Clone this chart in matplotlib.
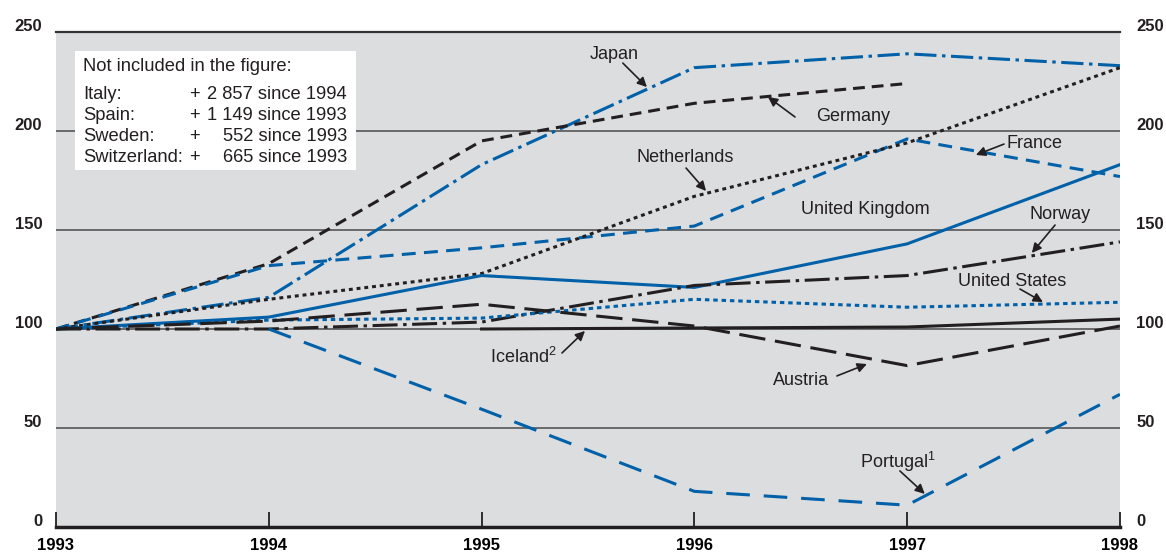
import matplotlib.pyplot as plt

plt.rcParams['font.family'] = ['Liberation Sans', 'DejaVu Sans']
plt.rcParams['mathtext.fontset'] = 'custom'
plt.rcParams['mathtext.rm'] = 'Liberation Sans'
plt.rcParams['lines.scale_dashes'] = False

# years on the x axis
years = [1993, 1994, 1995, 1996, 1997, 1998]

# index values (1993 = 100)
japan = [100, 116, 183, 232, 239, 233]
germany = [100, 133, 195, 214, 224]
france = [100, 132, 141, 152, 196, 177]
netherlands = [100, 115, 128, 167, 194, 232]
united_kingdom = [100, 106, 127, 121, 143, 183]
norway = [100, 100, 103.5, 122, 127, 144]
united_states = [100, 104.5, 105.5, 115, 111, 113.5]
austria = [100, 104, 112.5, 101.5, 81.5, 101.5]
iceland_years = [1995, 1996, 1997, 1998]
iceland = [100, 100.5, 101, 105]
portugal_years = [1994, 1995, 1996, 1997, 1998]
portugal = [100, 59.5, 18, 11, 67]

# box with countries left out
not_included = ['Italy:', 'Spain:', 'Sweden:', 'Switzerland:']
not_included_vals = ['2 857 since 1994', '1 149 since 1993', '552 since 1993', '665 since 1993']

blue = '#0060a8'
black = '#231f20'
bg = '#dcdddf'
txt = '#231f20'

fig, ax = plt.subplots(figsize=(11.66, 5.56), dpi=100)
fig.subplots_adjust(left=0.048, right=0.9605, top=0.9424, bottom=0.0522)
ax.set_facecolor(bg)

lw = 2.2
ax.plot(years, japan, color=blue, lw=lw, dashes=(16, 4, 2.5, 4))
ax.plot(years[:5], germany, color=black, lw=lw, dashes=(8.5, 5))
ax.plot(years, france, color=blue, lw=lw, dashes=(10, 6))
ax.plot(years, netherlands, color=black, lw=lw, dashes=(2.8, 2.8))
ax.plot(years, united_kingdom, color=blue, lw=lw)
ax.plot(years, norway, color=black, lw=lw, dashes=(18, 4, 2.5, 4))
ax.plot(years, united_states, color=blue, lw=lw, dashes=(3.2, 2.8))
ax.plot(years, austria, color=black, lw=lw, dashes=(19, 7))
ax.plot(iceland_years, iceland, color=black, lw=lw)
ax.plot(portugal_years, portugal, color=blue, lw=lw, dashes=(17, 10))

ax.set_xlim(1993, 1998)
ax.set_ylim(0, 250)

# grid lines
for v in [50, 100, 150, 200]:
    ax.axhline(v, color='#4a4a4a', lw=1.1, zorder=0.5)

for s in ['left', 'right']:
    ax.spines[s].set_visible(False)
ax.spines['top'].set_color('#333333')
ax.spines['top'].set_linewidth(1.6)
ax.spines['bottom'].set_color(black)
ax.spines['bottom'].set_linewidth(2.5)

tick_font = dict(family=['Liberation Sans', 'DejaVu Sans'], weight='bold', size=12)
ax.set_xticks(years)
ax.set_xticklabels([str(y) for y in years], **tick_font)
ax.tick_params(axis='x', direction='in', length=11, width=1.3, color=black, pad=8)
ax.set_yticks([])

# y labels both sides, a little above the grid lines
for v in [0, 50, 100, 150, 200, 250]:
    ax.text(-0.013, v + 3, str(v), transform=ax.get_yaxis_transform(),
            ha='right', va='center', color=black, **tick_font)
    ax.text(1.0155, v + 3, str(v), transform=ax.get_yaxis_transform(),
            ha='left', va='center', color=black, **tick_font)

# box of countries not shown
ax.add_patch(plt.Rectangle((0.0179, 0.721), 0.264, 0.2406, transform=ax.transAxes,
                           facecolor='white', edgecolor='none', zorder=3))
ax.text(0.0254, 0.931, 'Not included in the figure:', transform=ax.transAxes,
        fontsize=13.2, color=txt, va='center', zorder=4)
for i, (name, val) in enumerate(zip(not_included, not_included_vals)):
    yy = 0.874 - i * 0.0425
    ax.text(0.0254, yy, name, transform=ax.transAxes, fontsize=13.2, color=txt,
            va='center', zorder=4)
    ax.text(0.125, yy, '+', transform=ax.transAxes, fontsize=13.2, color=txt,
            va='center', zorder=4)
    ax.text(0.2735, yy, val, transform=ax.transAxes, fontsize=13.2, color=txt,
            va='center', ha='right', zorder=4)

# labels and arrows (data coordinates)
labels = [
    ('Japan', (1995.622, 238.4), 'center', (1995.664, 234.3), (1995.777, 222.2)),
    ('Germany', (1996.571, 207.1), 'left', (1996.473, 207.1), (1996.346, 217.2)),
    ('France', (1997.469, 193.9), 'left', (1997.455, 193.4), (1997.323, 187.9)),
    ('Netherlands', (1995.956, 186.4), 'center', (1995.961, 181.3), (1996.055, 169.7)),
    ('United Kingdom', (1996.802, 160.6), 'center', None, None),
    ('Norway', (1997.718, 157.6), 'center', (1997.695, 152.5), (1997.586, 138.4)),
    ('United States', (1997.492, 124.2), 'center', (1997.530, 120.2), (1997.638, 113.6)),
    ('Iceland$^{\\mathrm{2}}$', (1995.039, 85.9), 'left', (1995.378, 87.9), (1995.486, 99.0)),
    ('Austria', (1996.369, 74.2), 'left', (1996.670, 76.3), (1996.811, 82.3)),
    ('Portugal$^{\\mathrm{1}}$', (1996.778, 32.8), 'left', (1996.966, 28.3), (1997.083, 16.7)),
]
for name, pos, ha, tail, head in labels:
    ax.text(pos[0], pos[1], name, fontsize=13, color=txt, ha=ha, va='center', zorder=4)
    if tail is not None:
        ax.annotate('', xy=head, xytext=tail,
                    arrowprops=dict(arrowstyle='-|>', color=black, lw=1.2,
                                    mutation_scale=14, shrinkA=0, shrinkB=0))

fig.savefig('out.png', dpi=100)
